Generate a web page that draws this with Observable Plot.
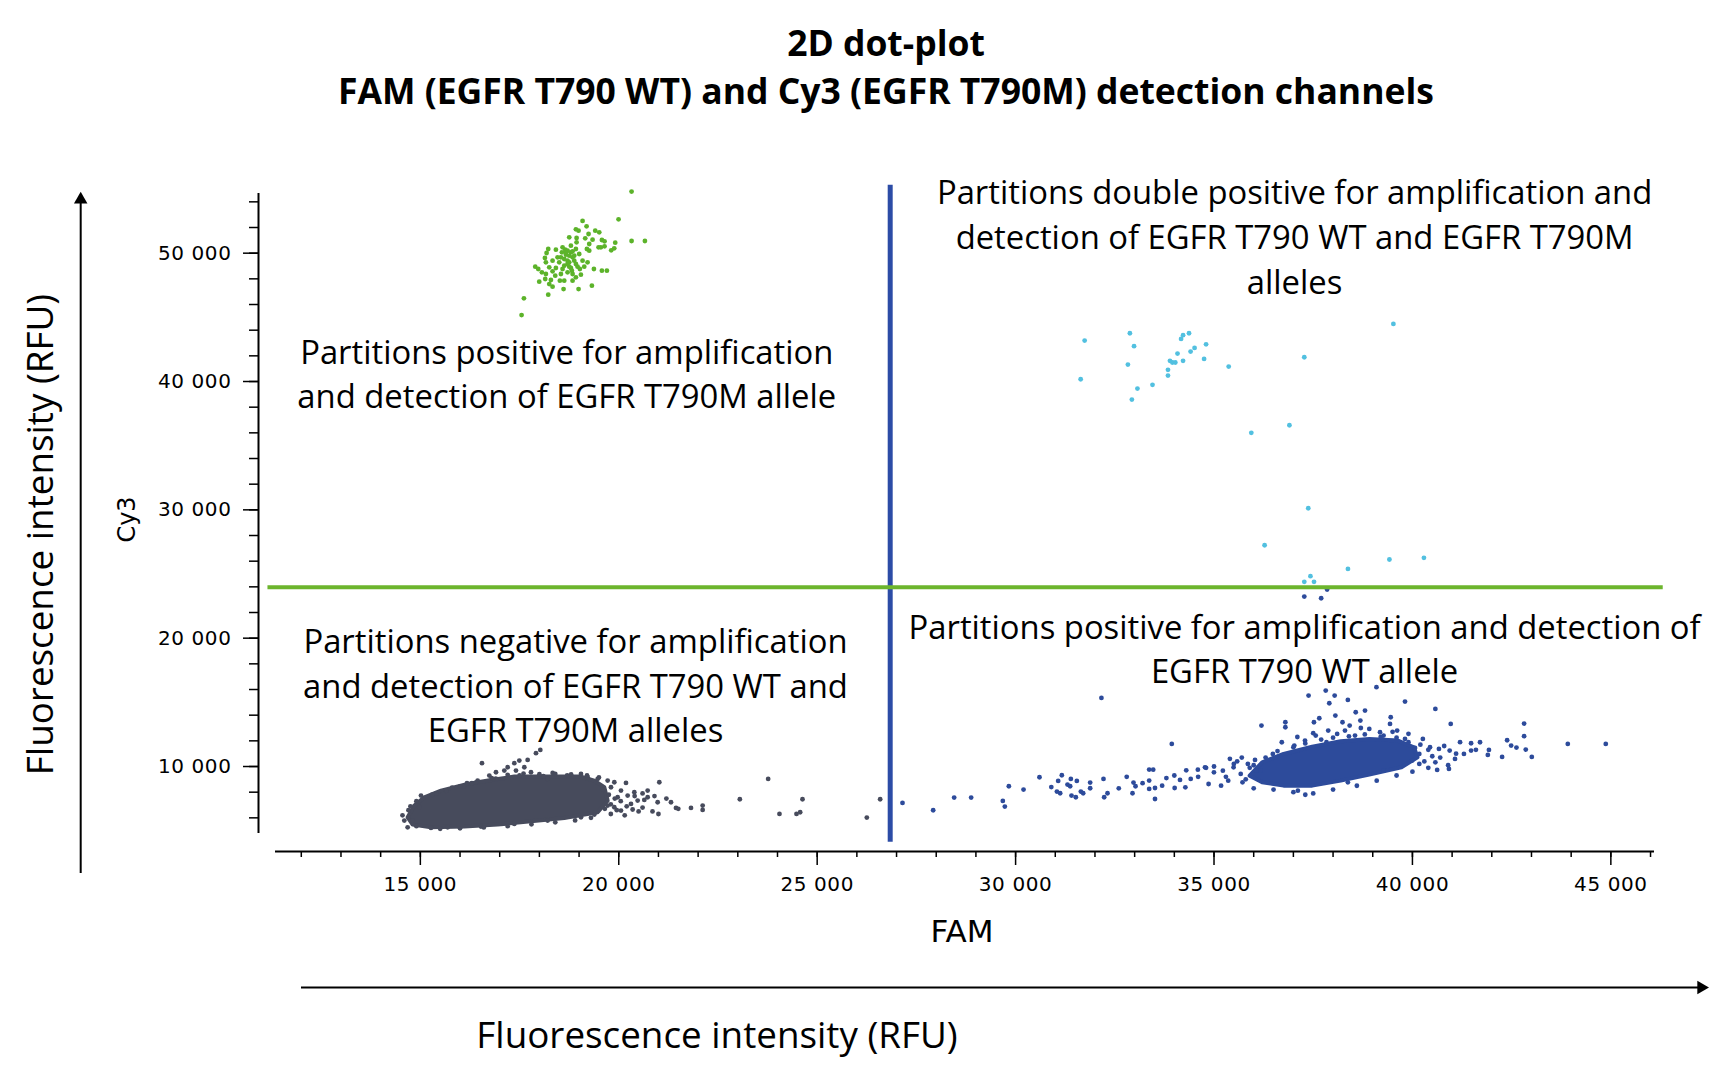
<!DOCTYPE html>
<html><head><meta charset="utf-8">
<script src="https://cdn.jsdelivr.net/npm/d3@7"></script>
<script src="https://cdn.jsdelivr.net/npm/@observablehq/plot@0.6"></script>
<style>html,body{margin:0;padding:0;background:#fff;} #chart svg{display:block;}</style>
</head><body><div id="chart"></div>
<script>
// ---- axis domains and ticks ----
const xDomain = [11350, 46100];
const yDomain = [4780, 54650];
const xMajor = [15000, 20000, 25000, 30000, 35000, 40000, 45000];
const xMinor = [12000,13000,14000,15000,16000,17000,18000,19000,20000,21000,22000,23000,24000,25000,26000,27000,28000,29000,30000,31000,32000,33000,34000,35000,36000,37000,38000,39000,40000,41000,42000,43000,44000,45000,46000];
const yMajor = [10000, 20000, 30000, 40000, 50000];
const yMinor = [6000,8000,10000,12000,14000,16000,18000,20000,22000,24000,26000,28000,30000,32000,34000,36000,38000,40000,42000,44000,46000,48000,50000,52000,54000];

// ---- thresholds ----
const famThreshold = 26840;
const cy3Threshold = 23960;

// ---- green: Cy3 positive (T790M) ----
const greenFAM = [20323,19995,20323,20659,19088,19189,18920,18987,19407,19508,19239,18752,18937,19155,19340,19575,19642,19911,19886,19810,19550,19642,19256,18937,18651,18567,18416,18223,18181,18458,18668,18794,18920,19197,19256,19491,18139,18164,18332,18500,18710,18878,19088,19214,17895,17971,18248,18416,18584,18752,18962,19130,19374,19575,19701,18063,18164,18332,18542,18710,18836,19046,18147,17996,18290,18516,18626,18836,18920,19323,18987,18609,18332,18223,17610,17551,18752,18626,18836,18710,18584,18794,19003,19020,18399,18248,18710,18794,18878,18668,18836,18752,18626,18920,18542,18819];
const greenCy3 = [54798,52640,50950,50950,52510,52094,51860,51756,51756,51626,51496,51236,51184,51158,51054,51028,50924,50820,50378,50222,50456,50534,50716,50846,50274,50066,50274,50326,50014,49676,49884,50066,50326,50326,50196,50456,49624,49286,49416,49286,49416,49416,49416,49286,48948,48766,48896,48844,48766,48948,48948,48948,48766,48636,48636,48506,48376,48584,48376,48506,48376,48324,47986,47778,47908,47856,47856,47856,48116,47466,47206,47206,47388,46764,46478,45178,49806,49546,49676,50196,50456,50586,49936,48766,48246,47596,49156,48844,49806,50066,50144,49286,49026,49156,49676,48636];

// ---- cyan: double positive ----
const cyanFAM = [31740,31640,32880,32985,32830,33070,32930,33450,33840,33840,33890,33950,34025,34080,34220,34170,34220,34370,34410,34510,34750,34800,35370,37275,39520,35940,36900,37375,36275,38375,39420,40290,37430,37275,37520];
const cyanCy3 = [43190,40175,43760,42750,41320,39450,38590,39740,40460,40910,41610,41480,41480,42180,41610,43320,43610,43760,42330,42620,41760,42900,41160,41890,44490,36000,36590,30125,27240,25400,26130,26260,24830,24390,24390];

// ---- blue: FAM positive (T790 WT) ----
const blueFAM = [27150,27923,28452,28880,29678,29729,29830,30602,31073,31165,31041,31123,31308,31392,31375,31543,31409,31518,31644,31703,31879,31879,32215,32232,32316,32946,32971,33022,33366,33366,33366,
33468,33513,33693,34008,34143,34413,34278,34593,34863,34773,34998,35223,35358,35493,35178,35583,35853,35673,35718,36033,36168,33513,
32163,33936,37383,37815,38040,37905,38373,39093,39813,40578,40965,
41928,41703,41478,41478,41298,41073,40938,40668,40623,40920,40578,40173,40065,40443,
36195,36798,36798,37518,37653,38058,38238,38571,38805,38688,38418,39453,39435,39615,37563,37878,38103,38913,39183,36708,37023,40263,
37113,38373,39273,39993,40173,37293,37833,38553,39273,39813,36483,36078,
42814,42814,42386,42487,42621,42856,43008,42260,43915,44872,
37275,37700,37850,
36300,36600,37000,37300,37700,38000,38400,38800,39200,39600,39900,40200,40400,40500,40300,37100,37500,38300,38700,39500,39900,
36000,36500,37000,37500,38000,38600,39100,39600,40000,37300,
34000,34300,34600,35000,35300,35500,35800,35900,35400,35700,36000,34800,33800,33200,32600,32800,30200,30900,
40700,40900,41100,41600,41900,40400,40800,41200];
const blueCy3 = [7162,6590,7578,7578,7318,6876,8462,9164,8878,9320,8046,7916,8592,9034,8462,8878,7734,7604,8046,7916,8748,8306,9034,7604,7916,7916,8748,8462,9762,8904,8254,
9757,8327,8509,8327,8951,9029,8379,9757,8639,9939,9549,9679,8899,9939,8509,10407,10199,9419,8769,10511,9679,7469,
15347,11759,15529,15919,15529,14931,15191,16179,15061,14489,13319,
11291,11889,11811,11239,10979,10589,11239,11369,9731,9809,10329,10199,11447,11499,
13189,13449,13059,13449,13761,13969,13449,14229,14359,13579,13189,13839,13319,12799,12409,12799,12539,12929,12669,11889,11629,12149,
8119,8769,9679,10459,10979,12019,11889,12409,12409,12149,10979,9679,
13348,12360,12048,11632,11476,11320,10748,10748,11762,11762,
23245,23110,23790,
10700,11200,11500,11800,12100,12250,12350,12500,12300,12250,11900,11700,11300,10800,10400,12300,12600,12800,13000,12700,12550,
8300,8200,8000,7900,8200,8500,8900,9300,9600,7800,
9300,9700,9200,10000,9200,10200,9000,9900,10600,10700,10100,9900,9100,8700,8300,9200,8200,8400,
10700,10100,11000,11300,10900,9900,11600,11900];
// dense core outline of the blue cluster
const blueCoreFAM = [35898,36213,36753,37473,38193,38913,39633,40038,40128,39723,38913,38193,37473,36753,36213];
const blueCoreCy3 = [9289,10329,10979,11551,11967,12149,12019,11499,10719,9939,9367,8899,8509,8509,8769];

// ---- grey: double negative ----
const greyFAM = [18023,17914,17704,17494,17368,17200,17116,17620,17410,16906,16553,16738,16444,16175,18334,16091,17788,18208,
19048,19216,19468,19720,19888,20182,21022,20728,
20056,20392,20224,19804,19972,20476,20644,20728,20308,20980,21316,21442,21820,22114,22114,19888,20056,19720,
14596,14680,14806,14974,15016,15268,15688,16528,17368,18208,19048,19384,
23051,23765,24050,24479,24571,24630,26251,26587,
15400,15800,16300,16900,17500,18100,18700,
15300,15650,16000,16400,16800,17200,17600,18000,18400,18800,19200,19500,
14900,15500,16000,16600,17200,17800,18400,18900,19300,
19600,19750,19900,20050,19800,19650,19950,20200,20350,20500,20150,19800,20600,20850,21000,20400,20600,20900,21200,21500,
14700,14750,14900,14550];
const greyCy3 = [11296,11036,10516,10464,10256,9944,9684,9944,9684,9554,10256,9294,8904,8696,9502,8462,9554,9034,
9424,9164,9034,8904,8774,8722,8774,8124,
8124,7994,7734,8384,7604,7344,7396,7604,7084,7214,7214,6772,6772,6954,6616,6824,6564,6954,
5784,5264,5784,6824,7734,5212,5264,5316,5524,5784,6044,6252,
7448,9034,6304,6304,6434,7448,6018,7448,
7900,8350,8700,9050,9300,9250,9300,
7800,8100,8450,8750,9100,9350,9450,9400,9420,9380,9300,9150,
5350,5150,5180,5250,5350,5500,5650,5800,6000,
8200,7800,7500,7300,7050,6700,6600,6900,6650,6500,6200,6300,6800,6500,6300,7700,7900,7700,7500,6700,
6600,6900,7300,6200];
// dense core outline of the grey cluster
const greyCoreFAM = [14680,14848,15100,15520,16192,16780,17368,17956,18544,19048,19384,19636,19720,19468,18628,17788,16948,16108,15268,14806];
const greyCoreCy3 = [6044,6954,7604,8124,8644,8956,9216,9164,9216,9216,8904,8384,7344,6434,5992,5732,5472,5316,5264,5472];

// ---- quadrant annotations ----
const annoText = [
  "Partitions double positive for amplification and\ndetection of EGFR T790 WT and EGFR T790M\nalleles",
  "Partitions positive for amplification\nand detection of EGFR T790M allele",
  "Partitions negative for amplification\nand detection of EGFR T790 WT and\nEGFR T790M alleles",
  "Partitions positive for amplification and detection of\nEGFR T790 WT allele"
];
const annoFAM = [37030, 18690, 18909, 37282];
const annoCy3 = [51430, 40755, 16460, 19320];

const titleText = "2D dot-plot\nFAM (EGFR T790 WT) and Cy3 (EGFR T790M) detection channels";
const outerLabel = "Fluorescence intensity (RFU)";

// colours
const GREY = "#474b5c", BLUE = "#2d4b9b", CYAN = "#52c0e0", GREEN = "#5cb32a";
const LINEBLUE = "#2c4ca6", LINEGREEN = "#6cb52d";

const zip = (xs, ys) => xs.map((x, i) => ({x, y: ys[i]}));
const fmt = d => d3.format(",")(d).replace(/,/g, " ");
const axisFont = "DejaVu Sans";

const chart = Plot.plot({
  width: 1733, height: 1086,
  marginLeft: 275, marginRight: 79, marginTop: 193, marginBottom: 253,
  x: {domain: xDomain},
  y: {domain: yDomain},
  style: {background: "#fff", overflow: "visible", fontFamily: "Open Sans", color: "#000"},
  marks: [
    // axis lines
    Plot.ruleY([yDomain[0]], {dy: 18, stroke: "#000", strokeWidth: 2}),
    Plot.ruleX([xDomain[0]], {dx: -17, stroke: "#000", strokeWidth: 2}),
    Plot.axisX(xMinor, {anchor: "bottom", tickSize: 6, dy: 18, text: null, label: null, strokeWidth: 1.5}),
    Plot.axisX(xMajor, {anchor: "bottom", tickSize: 14, tickPadding: 11, dy: 18, label: null, tickFormat: fmt, fontSize: 20, fontFamily: axisFont, strokeWidth: 1.5}),
    Plot.axisY(yMinor, {anchor: "left", tickSize: 9, dx: -17, text: null, label: null, strokeWidth: 1.5}),
    Plot.axisY(yMajor, {anchor: "left", tickSize: 15, tickPadding: 12, dx: -17, label: null, tickFormat: fmt, fontSize: 20, fontFamily: axisFont, strokeWidth: 1.5}),
    // axis titles
    Plot.text(["FAM"], {text: d => d, frameAnchor: "bottom", lineAnchor: "middle", dx: -3, dy: 99, fontSize: 31, fontFamily: axisFont}),
    Plot.text(["Cy3"], {text: d => d, frameAnchor: "left", textAnchor: "middle", dx: -148, dy: 6, rotate: -90, fontSize: 24, fontFamily: axisFont}),
    // clusters
    Plot.hull(zip(greyCoreFAM, greyCoreCy3), {x: "x", y: "y", fill: GREY, stroke: GREY, strokeWidth: 4, strokeLinejoin: "round"}),
    Plot.dot(zip(greyFAM, greyCy3), {x: "x", y: "y", r: 2.4, fill: GREY}),
    Plot.hull(zip(blueCoreFAM, blueCoreCy3), {x: "x", y: "y", fill: BLUE, stroke: BLUE, strokeWidth: 4, strokeLinejoin: "round"}),
    Plot.dot(zip(blueFAM, blueCy3), {x: "x", y: "y", r: 2.4, fill: BLUE}),
    Plot.dot(zip(cyanFAM, cyanCy3), {x: "x", y: "y", r: 2.4, fill: CYAN}),
    Plot.dot(zip(greenFAM, greenCy3), {x: "x", y: "y", r: 2.4, fill: GREEN}),
    // thresholds
    Plot.ruleX([famThreshold], {y1: 4100, y2: 55300, stroke: LINEBLUE, strokeWidth: 5}),
    Plot.ruleY([cy3Threshold], {x1: 11160, x2: 46320, stroke: LINEGREEN, strokeWidth: 4}),
    // annotations
    Plot.text(annoText.map((t, i) => ({t, x: annoFAM[i], y: annoCy3[i]})), {x: "x", y: "y", text: "t", fontSize: 32.8, lineHeight: 1.36, fill: "#000"}),
    // title
    Plot.text([titleText], {text: d => d, frameAnchor: "top", lineAnchor: "middle", dx: -79, dy: -129, fontSize: 35.5, fontWeight: "bold", lineHeight: 1.35, fill: "#000"}),
    // outer arrows and labels
    Plot.ruleX([6441], {y1: 1663, y2: 54300, stroke: "#000", strokeWidth: 2}),
    Plot.dot([{x: 6441, y: 54180}], {x: "x", y: "y", symbol: "triangle", r: 5, fill: "#000", stroke: null}),
    Plot.ruleY([-7219], {x1: 12005, x2: 47300, stroke: "#000", strokeWidth: 2}),
    Plot.dot([{x: 47277, y: -7219}], {x: "x", y: "y", symbol: "triangle", rotate: 90, r: 5, fill: "#000", stroke: null}),
    Plot.text([outerLabel], {text: d => d, frameAnchor: "left", textAnchor: "middle", dx: -234, dy: 21, rotate: -90, fontSize: 36.8, fill: "#000"}),
    Plot.text([outerLabel], {text: d => d, frameAnchor: "bottom", lineAnchor: "middle", dx: -248, dy: 203, fontSize: 36.8, fill: "#000"})
  ]
});
d3.select(chart).selectAll("g[aria-label='x-axis tick label'] text, g[aria-label='y-axis tick label'] text").attr("letter-spacing", "0.6px");
document.getElementById("chart").append(chart);
</script>
</body></html>
